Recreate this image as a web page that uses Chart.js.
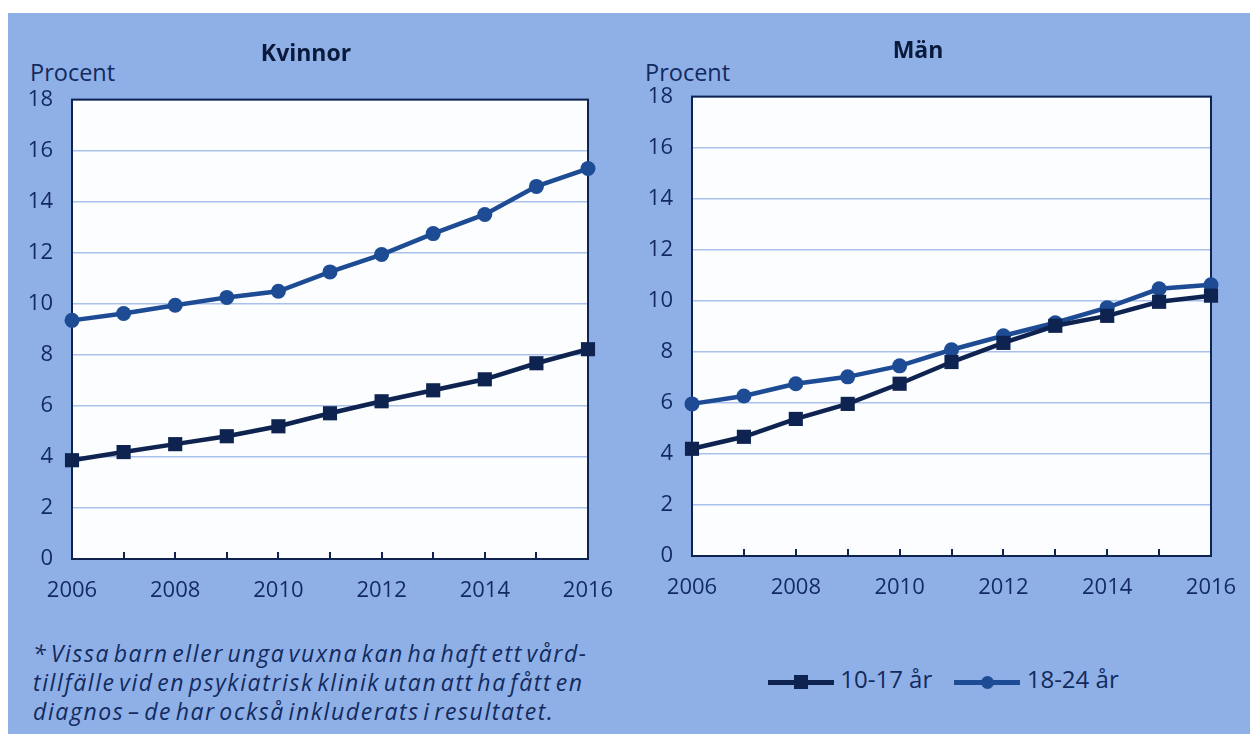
<!DOCTYPE html>
<html>
<head>
<meta charset="utf-8">
<script src="https://cdn.jsdelivr.net/npm/chart.js@4/dist/chart.umd.min.js"></script>
<style>
  html, body { margin: 0; padding: 0; background: #ffffff; }
  body { width: 1256px; height: 734px; position: relative; overflow: hidden; font-family: "Open Sans", sans-serif; color: #122a5e; }
  #panel { position: absolute; left: 8px; top: 13px; width: 1242px; height: 721px; background: #8fb0e6; }
  .cv { position: absolute; }
  .procent { position: absolute; font-size: 23.5px; line-height: 24px; }
  #note { position: absolute; left: 33px; top: 639px; font-size: 23px; font-style: italic; line-height: 29px; letter-spacing: 1.6px; word-spacing: -4px; white-space: nowrap; }
  #legend { position: absolute; left: 768px; top: 664px; font-size: 24px; line-height: 28px; white-space: nowrap; }
  .item { display: inline-block; vertical-align: middle; margin-right: 16px; }
  .sym { display: inline-block; position: relative; width: 66px; height: 28px; vertical-align: middle; }
  .sym .ln { position: absolute; left: 0; right: 0; top: 12px; height: 5px; }
  .sym .mk { position: absolute; }
</style>
</head>
<body>
<div id="panel"></div>
<div class="procent" style="left:30px; top:60px;">Procent</div>
<div class="procent" style="left:645px; top:60px;">Procent</div>
<div class="cv" style="left:0; top:12px; width:630px; height:610px;"><canvas id="kvinnor"></canvas></div>
<div class="cv" style="left:620px; top:9px; width:630px; height:610px;"><canvas id="man"></canvas></div>
<div id="note">* Vissa barn eller unga vuxna kan ha haft ett vård-<br>tillfälle vid en psykiatrisk klinik utan att ha fått en<br>diagnos – de har också inkluderats i resultatet.</div>
<div id="legend">
  <span class="item"><span class="sym"><span class="ln" style="background:#0e2350"></span><span class="mk" style="left:26px; top:7px; width:14px; height:14px; background:#0e2350"></span></span> 10-17 år</span>
  <span class="item"><span class="sym"><span class="ln" style="background:#1d4b94"></span><span class="mk" style="left:27px; top:8px; width:13px; height:13px; border-radius:50%; background:#1d4b94"></span></span> 18-24 år</span>
</div>
<script>
// --- data ---
const years = ['2006', '2007', '2008', '2009', '2010', '2011', '2012', '2013', '2014', '2015', '2016'];
const yTicks = [0, 2, 4, 6, 8, 10, 12, 14, 16, 18];

const kvinnor1017 = [3.87, 4.19, 4.5, 4.81, 5.2, 5.71, 6.18, 6.61, 7.04, 7.67, 8.22];
const kvinnor1824 = [9.35, 9.62, 9.94, 10.25, 10.49, 11.25, 11.93, 12.75, 13.5, 14.6, 15.3];
const man1017 = [4.2, 4.67, 5.37, 5.96, 6.75, 7.6, 8.35, 9.02, 9.41, 9.96, 10.2];
const man1824 = [5.96, 6.27, 6.75, 7.02, 7.45, 8.08, 8.63, 9.14, 9.73, 10.47, 10.63];

const NAVY = '#0e2350';
const BLUE = '#1d4b94';
const TEXT = '#122a5e';
const GRID = '#a9c1ea';

// white plot area, dark frame and small inward year ticks
const plotFrame = {
    id: 'plotFrame',
    beforeDraw(chart) {
        const a = chart.chartArea;
        const ctx = chart.ctx;
        ctx.save();
        ctx.fillStyle = '#fbfdff';
        ctx.fillRect(a.left, a.top, a.right - a.left, a.bottom - a.top);
        ctx.restore();
    },
    beforeDatasetsDraw(chart) {
        const a = chart.chartArea;
        const ctx = chart.ctx;
        const x = chart.scales.x;
        ctx.save();
        ctx.strokeStyle = NAVY;
        ctx.lineWidth = 2;
        ctx.beginPath();
        for (let i = 1; i < years.length - 1; i++) {
            const px = Math.round(x.getPixelForValue(i));
            ctx.moveTo(px, a.bottom);
            ctx.lineTo(px, a.bottom - 7);
        }
        ctx.stroke();
        ctx.strokeRect(a.left, a.top, a.right - a.left, a.bottom - a.top);
        ctx.restore();
    }
};

function makeChart(id, title, d1, d2, padLeft, yWidth, padRight) {
    return new Chart(document.getElementById(id), {
        type: 'line',
        data: {
            labels: years,
            datasets: [
                {
                    label: '10-17 år',
                    data: d1,
                    borderColor: NAVY,
                    backgroundColor: NAVY,
                    borderWidth: 4.5,
                    pointStyle: 'rect',
                    pointRadius: 10,
                    pointBorderWidth: 0,
                    tension: 0,
                    clip: false
                },
                {
                    label: '18-24 år',
                    data: d2,
                    borderColor: BLUE,
                    backgroundColor: BLUE,
                    borderWidth: 4.5,
                    pointStyle: 'circle',
                    pointRadius: 7.5,
                    pointBorderWidth: 0,
                    tension: 0,
                    clip: false
                }
            ]
        },
        options: {
            responsive: true,
            maintainAspectRatio: false,
            animation: false,
            layout: { padding: { left: padLeft, right: padRight, top: 29, bottom: 0 } },
            plugins: {
                legend: { display: false },
                tooltip: { enabled: false },
                title: {
                    display: true,
                    text: title,
                    color: '#0a1a3c',
                    font: { family: 'Open Sans', size: 23, weight: 'bold', lineHeight: 1.2 },
                    padding: { top: 0, bottom: 31 }
                }
            },
            scales: {
                x: {
                    type: 'category',
                    offset: false,
                    grid: { display: false },
                    border: { display: false },
                    afterFit: (s) => {
                        s.height = 63;
                        // let the end labels hang over the plot edges
                        s.paddingLeft = 0;
                        s.paddingRight = 0;
                    },
                    ticks: {
                        autoSkip: false,
                        maxRotation: 0,
                        padding: 11,
                        color: TEXT,
                        font: { family: 'Open Sans', size: 22 },
                        callback: (v, i) => (i % 2 === 0 ? years[i] : '')
                    }
                },
                y: {
                    min: 0,
                    max: 18,
                    afterFit: (s) => { s.width = yWidth; },
                    afterBuildTicks: (s) => { s.ticks = yTicks.map(v => ({ value: v })); },
                    grid: { color: GRID, lineWidth: 1.5, drawTicks: false },
                    border: { display: false },
                    ticks: {
                        padding: 19,
                        color: TEXT,
                        font: { family: 'Open Sans', size: 22 }
                    }
                }
            }
        },
        plugins: [plotFrame]
    });
}

makeChart('kvinnor', 'Kvinnor', kvinnor1017, kvinnor1824, 24, 48, 42);
makeChart('man', 'Män', man1017, man1824, 5, 67, 39);
</script>
</body>
</html>
